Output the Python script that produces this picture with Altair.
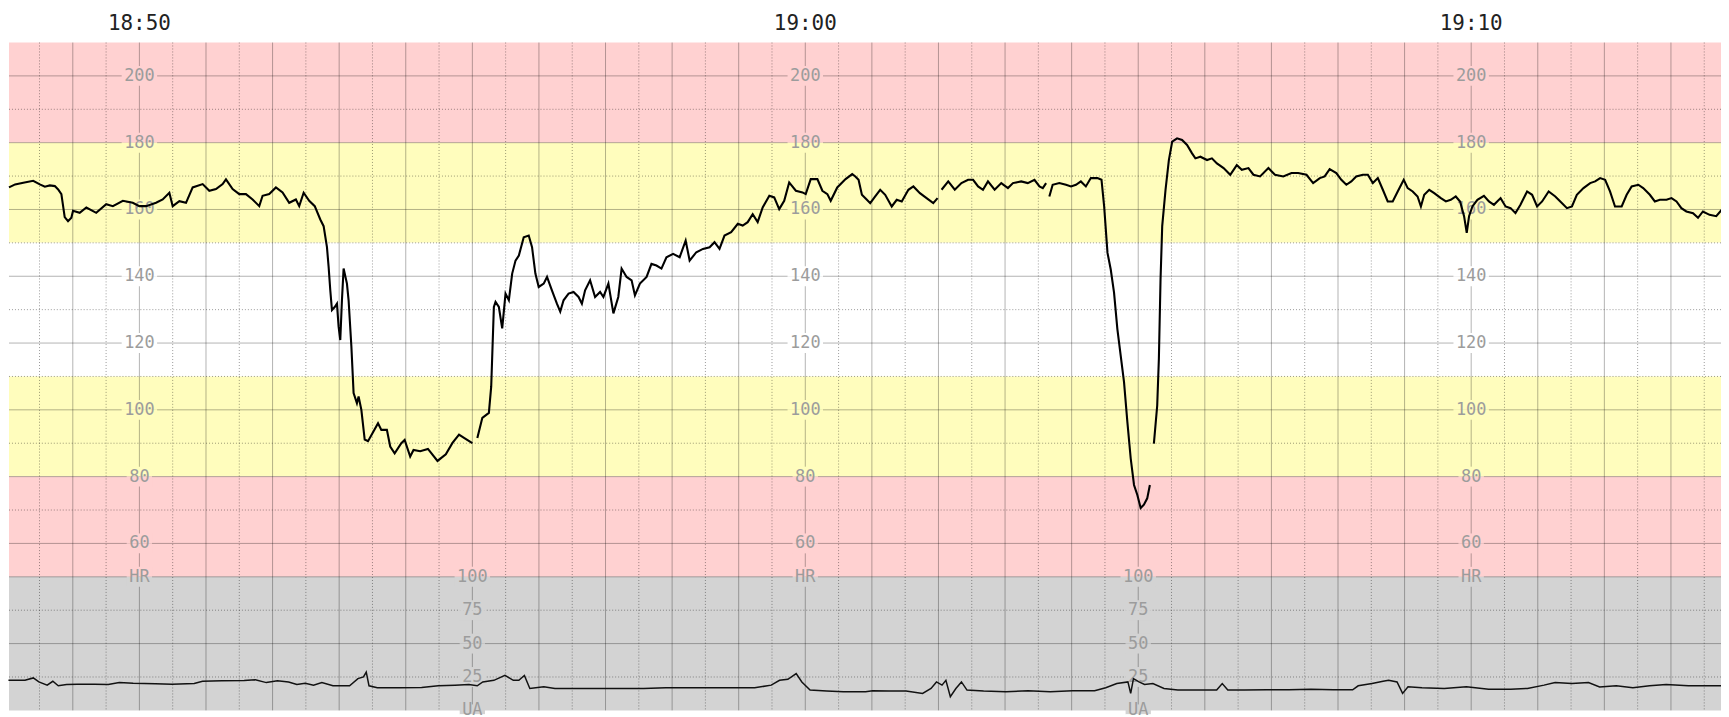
import altair as alt
import pandas as pd

# ---------------- data ----------------
# time in seconds relative to 18:50:00 ; None marks a gap in the trace
hr_time_s = [
    -117.5, -112, -104.6, -95.7, -89.7, -85.2, -80.7, -76.2, -73.2, -70.3, -67.3, -64.3, -61.3, -59.8,
    -53.8, -47.8, -38.9, -29.9, -23.9, -14.9, -6, 0, 6, 15, 21, 27, 30, 36, 42, 48, 57, 63, 69, 75, 78,
    84, 90, 96, 102, 108, 111, 117, 123, 129, 135, 141, 144, 148, 153, 158, 163, 166, 169, 170.5, 172,
    173.5, 176, 178, 179.5, 181, 182.5, 184, 187, 188.5, 191, 193, 196, 197.5, 200, 203, 206, 211, 215,
    218, 223, 226, 230, 236, 239, 244, 247, 253, 260, 268.6, 276.1, 282.1, 288, 292.5, 300, None,
    304.5, 309, 314.9, 317, 319.4, 320.9, 323.9, 326.9, 329.9, 332.9, 335.9, 338.9, 341.9, 346.3, 350.8,
    353.8, 356.8, 359.8, 364.3, 367.3, 371.7, 376.2, 379.2, 382.2, 386.7, 391.2, 395.7, 398.7, 401.6,
    406.1, 410.6, 415.1, 418.1, 422.6, 427.1, 431.5, 434.5, 439, 443.5, 446.5, 451, 457, 461.4, 465.9,
    470.4, 474.9, 480.9, 486.8, 492.2, 495.8, 501.8, 507.8, 513.8, 518.2, 522.7, 527.2, 533.2, 539.2,
    543.6, 548.1, 552.6, 557.1, 561.6, 567.6, 572, 576.5, 581, 585.5, 591.5, 597.5, 600.4, 604.9, 610.9,
    615.4, 619.9, 622.9, 628.8, 636.3, 642.3, 645.1, 648, 651, 655.5, 658.5, 663, 667.5, 672, 677.9,
    682.4, 686.9, 692.9, 697.4, 703.3, 709.3, 715.3, 719.2, None,
    722.8, 728.8, 734.7, 740.7, 746.7, 751.2, 755.7, 760.1, 764.6, 770.6, 776.6, 782.6, 787.1, 794.5,
    800.5, 806.5, 811, 814, 817, None,
    819.9, 822.9, 828.9, 834.9, 839.4, 843.9, 848.3, 852.8, 857.3, 863.3, 866.9, 869.3, 872.3, 875.2,
    878.2, 881.2, 884.2, 887.2, 890.2, 893.2, 896.2, 899.2, 902.2, 905.1, 908.1, 910.5, None,
    914.1, 917.1, 918.6, 920.1, 921.6, 924.6, 927.6, 930.6, 935, 939.5, 944, 948.5, 951.5, 956, 962,
    966.4, 970.9, 976.9, 982.9, 988.8, 993.3, 999.3, 1003.8, 1009.8, 1017.3, 1023.2, 1030.7, 1038.1,
    1044.1, 1051.6, 1057.6, 1063.6, 1068, 1072.5, 1078.5, 1083, 1087.5, 1092, 1096.4, 1102.4, 1106.9,
    1111.4, 1115.9, 1120.4, 1124.8, 1129.3, 1133.8, 1139.2, 1142.8, 1147.3, 1151.7, 1154.7, 1157.7,
    1162.2, 1166.7, 1172.7, 1177.2, 1181.6, 1186.1, 1190, 1193.6, 1196, 1198.1, 1201.1, 1205.6, 1211.5,
    1216, 1220.5, 1226.5, 1231, 1235.5, 1239.9, 1244.4, 1250.4, 1254.9, 1259.4, 1263.9, 1269.8, 1275.8,
    1280.3, 1286.3, 1290.8, 1295.2, 1301.2, 1307.2, 1311.7, 1316.2, 1320.7, 1325.1, 1329.6, 1335.6,
    1340.1, 1344.6, 1350.6, 1355, 1361, 1365.5, 1370, 1376, 1380.5, 1385, 1389.4, 1393.9, 1399.9,
    1404.4, 1408.8, 1414.8, 1420.8, 1425.9,
]
hr_bpm = [
    166.6, 167.5, 168.0, 168.6, 167.5, 166.8, 167.2, 167.0, 166.0, 164.6, 157.7, 156.5, 157.5, 159.6,
    159.0, 160.6, 159.0, 161.6, 161.0, 162.6, 162.0, 161.0, 161.0, 162.0, 163.0, 165.0, 161.0, 162.5,
    162.0, 166.6, 167.6, 165.6, 166.1, 167.6, 169.0, 166.1, 164.6, 164.6, 163.0, 161.0, 164.1, 164.6,
    166.6, 165.1, 162.0, 163.0, 161.0, 165.0, 162.6, 161.0, 157.0, 155.0, 148.7, 142.8, 135.8, 129.9,
    130.8, 131.8, 124.9, 120.9, 132.8, 142.3, 137.8, 132.8, 119.0, 105.0, 102.0, 104.0, 100.0, 91.1,
    90.6, 93.6, 96.0, 94.0, 94.0, 89.0, 87.0, 90.0, 91.0, 86.0, 88.0, 87.6, 88.3, 84.7, 86.7, 90.1,
    92.6, 91.6, 90.0, None,
    91.6, 97.6, 99.1, 107, 130.8, 132.3, 130.8, 124.4, 134.8, 132.8, 140.8, 144.7, 146.2, 151.7, 152.2,
    148.7, 140.8, 136.8, 137.8, 139.8, 135.8, 131.8, 129.4, 132.8, 134.8, 135.3, 133.8, 131.8, 135.8,
    138.8, 133.8, 135.3, 133.8, 137.8, 128.9, 133.8, 142.3, 139.8, 138.8, 134.3, 137.8, 139.8, 143.7,
    143.2, 142.3, 145.7, 146.7, 145.7, 150.7, 144.7, 147.2, 148.2, 148.7, 150.2, 148.2, 152.2, 153.2,
    155.7, 155.2, 156.2, 158.6, 156.2, 160.6, 164.1, 163.6, 160.1, 162.6, 168.1, 165.6, 165.1, 164.6,
    169.1, 169.1, 165.6, 164.6, 162.6, 166.6, 169.1, 170.6, 169.9, 168.9, 164.4, 162.9, 161.9, 163.9,
    165.9, 164.4, 160.9, 162.9, 162.4, 165.9, 166.9, 164.9, 163.4, 161.9, 163.4, None,
    165.9, 168.4, 165.9, 167.9, 168.9, 168.9, 166.9, 165.9, 168.4, 165.9, 167.9, 166.4, 167.9, 168.4,
    167.9, 168.9, 166.9, 166.4, 167.9, None,
    163.9, 167.4, 167.9, 167.4, 166.9, 167.4, 168.4, 166.9, 169.4, 169.4, 168.9, 160.9, 147, 142.1,
    135.1, 124.2, 116.2, 108.3, 96.4, 85.5, 77.5, 74.5, 70.6, 71.6, 73.5, 77.5, None,
    89.9, 101.3, 115.3, 139.1, 155, 165.9, 174.8, 180.3, 181.3, 180.8, 179.3, 176.8, 175.3, 175.8,
    174.8, 175.3, 173.8, 172.4, 170.4, 173.3, 171.9, 172.4, 170.4, 169.9, 172.4, 170.4, 169.9, 170.9,
    170.9, 170.4, 167.9, 169.4, 169.9, 172.1, 170.9, 168.9, 167.4, 168.4, 169.9, 170.4, 170.4, 167.9,
    169.4, 165.9, 162.4, 162.4, 165.4, 168.9, 166.4, 165.4, 163.9, 160.9, 164.4, 165.9, 164.9, 163.4,
    162.4, 162.9, 163.9, 162.4, 158, 153, 158, 160.9, 162.9, 164.1, 162.4, 161.4, 163.4, 160.9, 160.4,
    158.9, 161.4, 165.4, 164.4, 160.9, 162.4, 165.4, 163.9, 162.4, 160.4, 160.9, 164.4, 166.4, 167.9,
    168.4, 169.4, 168.9, 165.4, 160.9, 160.9, 164.4, 166.9, 167.4, 166.4, 164.4, 162.4, 162.9, 162.9,
    163.4, 162.4, 160.4, 159.4, 158.9, 157.5, 159.4, 158.4, 158, 160,
]

ua_time_s = [
    -118, -103.1, -95.6, -90.6, -83.1, -78, -73.1, -65.6, -55.6, -40.5, -28.1, -18.1, -5.6, 14.4, 29.4,
    49.4, 56.9, 74.4, 94.4, 104.4, 114.4, 124.4, 134.4, 141.9, 149.4, 156.9, 164.4, 174.4, 189.4, 196.9,
    201.9, 204.4, 206.9, 214.4, 234.3, 254.3, 269.3, 284.3, 296.9, 304.4, 309.4, 319.4, 329.4, 336.9,
    341.9, 346.9, 351.8, 364.4, 374.4, 394.4, 414.3, 434.3, 454.4, 474.3, 499.4, 524.3, 554.4, 569.3,
    576.8, 584.3, 591.8, 596.9, 604.3, 619.3, 634.3, 654.3, 660.7, 675.7, 690.8, 705.7, 713.3, 718.2,
    723.2, 726.7, 730.7, 735.7, 740.7, 745.7, 760.7, 780.7, 800.7, 820.7, 840.7, 860.7, 870.7, 880.7,
    890.7, 893.2, 895.7, 900.7, 905.7, 913.2, 923.2, 935.7, 955.7, 970.7, 975.7, 980.7, 995.7, 1015.7,
    1035.7, 1055.7, 1075.7, 1093.2, 1098.2, 1110.7, 1120.6, 1125.6, 1133.2, 1138.2, 1143.1, 1155.7,
    1175.7, 1195.7, 1215.7, 1235.6, 1250.7, 1265.7, 1275.6, 1290.7, 1305.7, 1315.7, 1330.7, 1345.7,
    1360.7, 1375.7, 1395.7, 1425.7,
]
ua_value = [
    22.5, 22.5, 24.3, 21.3, 18.9, 21.8, 18.4, 19.4, 19.6, 19.6, 19.4, 20.8, 20.3, 19.9, 19.6, 20.1, 21.8,
    22.1, 22.3, 23, 20.8, 22.1, 21.3, 19.4, 20.3, 18.9, 20.8, 18.4, 18.4, 23.8, 25, 28.7, 18.4, 16.9,
    16.9, 17.2, 18.4, 18.9, 19.4, 18.4, 21.3, 22.5, 26.2, 22.5, 22.5, 26.2, 16.4, 17.6, 16.4, 16.4,
    16.4, 16.4, 16.4, 16.9, 16.9, 16.9, 16.9, 18.9, 22.5, 23.3, 27.5, 21.3, 15.2, 14.5, 14, 14, 14.7,
    14.5, 14.5, 12.7, 16.4, 21.3, 18.9, 22.5, 10.3, 16.4, 21.3, 15.2, 14.5, 14, 14.7, 14, 14.7, 14.7,
    16.9, 20.1, 21.3, 12.7, 23.8, 21.3, 19.4, 20.1, 16.4, 15.2, 15.2, 15.2, 20.1, 15.2, 15.2, 15.4,
    15.4, 15.9, 15.4, 15.4, 18.4, 20.1, 21.8, 22.5, 21.3, 12.7, 17.6, 16.9, 16.4, 17.6, 15.9, 15.9,
    16.4, 18.9, 20.8, 20.1, 20.8, 17.6, 18.4, 16.9, 18.4, 19.4, 18.4, 18.4,
]

# bands (HR bpm; the UA strip sits below 50 on the same vertical scale)
band_low = [180, 150, 110, 80, 50, 10]
band_high = [210, 180, 150, 110, 80, 50]
band_color = ["#ffd1d1", "#fffdbd", "#ffffff", "#fffdbd", "#ffd1d1", "#d3d3d3"]

hr_grid_solid = [200, 180, 160, 140, 120, 100, 80, 60, 50]
hr_grid_dotted = [190, 170, 150, 130, 110, 90, 70]
ua_grid_solid = [50]
ua_grid_dotted = [75, 25]

hr_label_values = [200, 180, 160, 140, 120, 100, 80, 60, 50]
hr_label_texts = ["200", "180", "160", "140", "120", "100", "80", "60", "HR"]
hr_label_columns_s = [0, 600, 1200]
ua_label_values = [100, 75, 50, 25, 0]
ua_label_texts = ["100", "75", "50", "25", "UA"]
ua_label_columns_s = [300, 900]

time_label_s = [0, 600, 1200]
time_label_text = ["18:50", "19:00", "19:10"]

minute_lines_s = list(range(-60, 1441, 60))
half_minute_lines_s = list(range(-90, 1441, 60))

# ---------------- layout ----------------
W, H = 1720, 671
PX_PER_S = 1.115
T0 = -117.5
T1 = T0 + W / PX_PER_S
PX_PER_UNIT = H / 200.0

# ---------------- frames ----------------
rows, seg = [], 0
for t, v in zip(hr_time_s, hr_bpm):
    if v is None:
        seg += 1
        continue
    rows.append({"t": t, "v": v, "seg": seg})
hr_df = pd.DataFrame(rows)
ua_df = pd.DataFrame({"t": ua_time_s, "ua": ua_value})
band_df = pd.DataFrame({"lo": band_low, "hi": band_high, "c": band_color})


def band_at(level):
    for lo, hi, c in zip(band_low, band_high, band_color):
        if lo <= level < hi:
            return c
    return "#ffffff"


labels, patches = [], []
for col in hr_label_columns_s:
    for v, txt in zip(hr_label_values, hr_label_texts):
        labels.append({"t": col, "lvl": v, "txt": txt, "dy": 0})
for col in ua_label_columns_s:
    for u, txt in zip(ua_label_values, ua_label_texts):
        lvl = 10 + u * 0.4
        labels.append({"t": col, "lvl": lvl, "txt": txt, "dy": 4 if u == 0 else 0})
for lab in labels:
    hw = (len(lab["txt"]) * 10.2 / 2 + 2.5) / PX_PER_S
    hh = 10 / PX_PER_UNIT
    base = lab["lvl"] - lab["dy"] / PX_PER_UNIT
    patches.append({"x": lab["t"] - hw, "x2": lab["t"] + hw, "y": base, "y2": base + hh,
                    "c": band_at(base + hh / 2)})
    patches.append({"x": lab["t"] - hw, "x2": lab["t"] + hw, "y": base - hh, "y2": base,
                    "c": band_at(base - hh / 2) if base - hh / 2 >= 10 else "#ffffff"})
label_df = pd.DataFrame(labels)
patch_df = pd.DataFrame(patches)

xs = alt.Scale(domain=[T0, T1], nice=False, zero=False)
ys = alt.Scale(domain=[10, 210], nice=False, zero=False)

bands = alt.Chart(band_df).mark_rect().encode(
    x=alt.value(0), x2=alt.value(W),
    y=alt.Y("lo:Q", scale=ys, axis=None), y2="hi:Q",
    color=alt.Color("c:N", scale=None),
)

hgrid_dot = alt.Chart(pd.DataFrame(
    {"lvl": hr_grid_dotted + [10 + u * 0.4 for u in ua_grid_dotted]})).mark_rule(
    color="#000000", opacity=0.4, strokeWidth=1, strokeDash=[1, 2]
).encode(y=alt.Y("lvl:Q", scale=ys, axis=None))

vgrid_dot = alt.Chart(pd.DataFrame({"t": half_minute_lines_s})).mark_rule(
    color="#000000", opacity=0.4, strokeWidth=1, strokeDash=[1, 2]
).encode(x=alt.X("t:Q", scale=xs, axis=None))

hgrid = alt.Chart(pd.DataFrame(
    {"lvl": hr_grid_solid + [10 + u * 0.4 for u in ua_grid_solid]})).mark_rule(
    color="#000000", opacity=0.3, strokeWidth=1
).encode(y=alt.Y("lvl:Q", scale=ys, axis=None))

vgrid = alt.Chart(pd.DataFrame({"t": minute_lines_s})).mark_rule(
    color="#000000", opacity=0.3, strokeWidth=1
).encode(x=alt.X("t:Q", scale=xs, axis=None))

patch = alt.Chart(patch_df).mark_rect().encode(
    x=alt.X("x:Q", scale=xs, axis=None), x2="x2:Q",
    y=alt.Y("y:Q", scale=ys, axis=None), y2="y2:Q",
    color=alt.Color("c:N", scale=None),
)

label_text = alt.Chart(label_df).mark_text(
    font="DejaVu Sans Mono", fontSize=17, color="#9c9c9c", baseline="middle", align="center"
).encode(
    x=alt.X("t:Q", scale=xs, axis=None),
    y=alt.Y("lvl:Q", scale=ys, axis=None),
    yOffset=alt.YOffset("dy:Q", scale=None),
    text="txt:N",
)

ua_line = alt.Chart(ua_df).transform_calculate(lvl="10 + datum.ua * 0.4").mark_line(
    color="#111111", strokeWidth=1.5
).encode(
    x=alt.X("t:Q", scale=xs, axis=None),
    y=alt.Y("lvl:Q", scale=ys, axis=None),
)

hr_line = alt.Chart(hr_df).mark_line(color="#000000", strokeWidth=2.1).encode(
    x=alt.X("t:Q", scale=xs, axis=None),
    y=alt.Y("v:Q", scale=ys, axis=None),
    detail="seg:N",
    order="t:Q",
)

time_labels = alt.Chart(pd.DataFrame({"t": time_label_s, "txt": time_label_text})).mark_text(
    font="DejaVu Sans Mono", fontSize=21, color="#222222", baseline="middle", align="center"
).encode(
    x=alt.X("t:Q", scale=xs, axis=None),
    y=alt.value(-19),
    text="txt:N",
)

chart = alt.layer(
    bands, hgrid_dot, vgrid_dot, hgrid, vgrid, patch, label_text, ua_line, hr_line, time_labels
).properties(
    width=W, height=H,
    autosize=alt.AutoSizeParams(type="none"),
    padding={"left": 1, "top": 33, "right": 0, "bottom": 8},
).configure_view(stroke=None)

chart.save("out.html", embed_options={"renderer": "svg", "actions": False})
